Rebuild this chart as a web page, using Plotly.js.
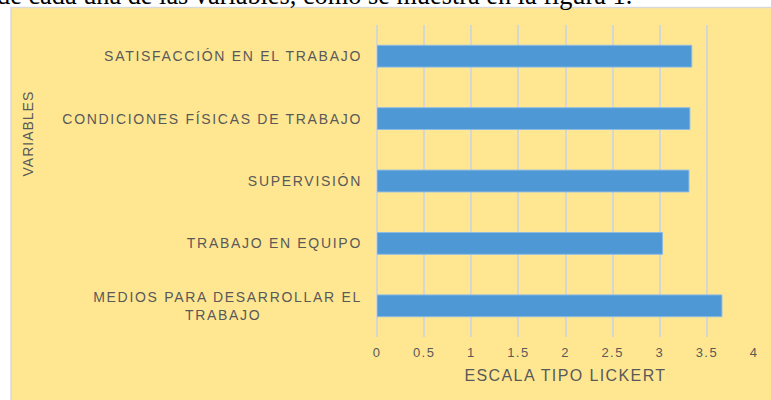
<!DOCTYPE html>
<html>
<head>
<meta charset="utf-8">
<script src="https://cdn.plot.ly/plotly-3.0.1.min.js"></script>
<style>
html,body{margin:0;padding:0;background:#fff;}
#chart .ytick text{letter-spacing:1.7px;}
#chart .xtick text, #chart .g-xtitle text{letter-spacing:1.4px;}
#chart .annotation.sans text{letter-spacing:1px;}
</style>
</head>
<body>
<div id="chart" style="width:771px;height:400px;"></div>
<script>
const categories = [
  "SATISFACCIÓN EN EL TRABAJO",
  "CONDICIONES FÍSICAS DE TRABAJO",
  "SUPERVISIÓN",
  "TRABAJO EN EQUIPO",
  "MEDIOS PARA DESARROLLAR EL<br>TRABAJO" + "\u00A0".repeat(18)
];
const values = [3.34, 3.32, 3.31, 3.03, 3.66];
const xTickVals = [0, 0.5, 1, 1.5, 2, 2.5, 3, 3.5, 4];
const xTickText = ["0", "0.5", "1", "1.5", "2", "2.5", "3", "3.5", "4"];
const xTitle = "ESCALA TIPO LICKERT";
const yTitle = "VARIABLES";
const topText = "de cada una de las variables, como se muestra en la figura 1.";

const grey = "#595959";
const trace = {
  type: "bar",
  orientation: "h",
  y: categories,
  x: values,
  marker: {color: "#4F98D6", line: {color: "#8FBCE3", width: 1}},
  hoverinfo: "x+y"
};

const layout = {
  width: 771, height: 400,
  margin: {l: 377, r: 17, t: 25, b: 63, autoexpand: false},
  paper_bgcolor: "#ffffff",
  plot_bgcolor: "rgba(0,0,0,0)",
  showlegend: false,
  bargap: 0.65,
  font: {family: "Liberation Sans, Arial, sans-serif", color: grey},
  xaxis: {
    range: [0, 4], tickvals: xTickVals, ticktext: xTickText,
    showgrid: true, gridcolor: "#D6D6D2", gridwidth: 2,
    zeroline: true, zerolinecolor: "#D6D6D2", zerolinewidth: 2,
    showline: false, ticks: "", ticklabelstandoff: 6,
    tickfont: {size: 13, color: grey},
    title: {text: xTitle, font: {size: 16, color: grey}, standoff: 10},
    fixedrange: true
  },
  yaxis: {
    type: "category", autorange: "reversed",
    showgrid: false, zeroline: false, showline: false, ticks: "",
    ticklabelstandoff: 14,
    tickfont: {size: 14, color: grey},
    fixedrange: true
  },
  shapes: [{
    type: "rect", xref: "paper", yref: "paper", layer: "below",
    x0: (11 - 377) / 377, x1: (775 - 377) / 377,
    y0: 1 - (405 - 25) / 312, y1: 1 - (7.5 - 25) / 312,
    fillcolor: "#FFE792", line: {color: "#D9D9D9", width: 1.5}
  }],
  annotations: [{
    text: yTitle, textangle: -90, showarrow: false,
    xref: "paper", yref: "paper",
    x: (28 - 377) / 377, y: 1 - (134 - 25) / 312,
    xanchor: "center", yanchor: "middle",
    font: {size: 14, color: grey}
  }, {
    text: topText, showarrow: false,
    xref: "paper", yref: "paper",
    x: (634 - 377) / 377, y: 1 - (-4 - 25) / 312,
    xanchor: "right", yanchor: "middle",
    font: {family: "Liberation Serif, Times New Roman, serif", size: 26.3, color: "#000000"}
  }]
};

Plotly.newPlot("chart", [trace], layout, {displayModeBar: false, staticPlot: true}).then(function(gd){
  var anns = gd.querySelectorAll(".annotation");
  if (anns[0]) anns[0].classList.add("sans");
});
</script>
</body>
</html>
